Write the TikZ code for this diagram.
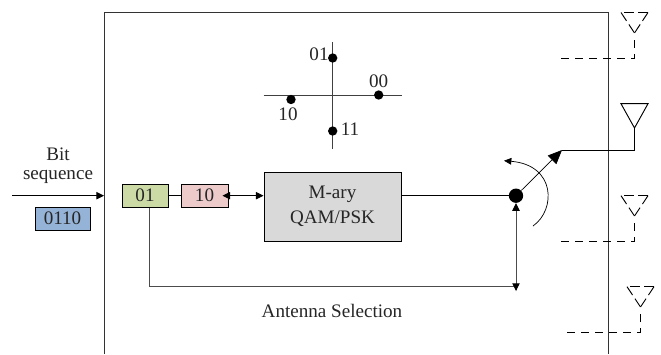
\documentclass[tikz,border=0pt]{standalone}
\usepackage{fontspec}
\setmainfont{Liberation Serif}
\usetikzlibrary{arrows.meta}
\definecolor{boxblue}{HTML}{95B3D7}
\definecolor{boxgreen}{HTML}{CCDBA6}
\definecolor{boxpink}{HTML}{EDCBCB}
\definecolor{boxgray}{HTML}{D9D9D9}
\tikzset{
  txt/.style={inner sep=0pt, font=\fontsize{16.3}{18}\selectfont, text=black!85},
  bitbox/.style={draw, line width=0.8pt, minimum height=0.69cm, inner sep=0pt, font=\fontsize{16.3}{18}\selectfont, text=black!85},
  point/.style={circle, fill=black, inner sep=0pt, minimum size=0.28cm},
  thin line/.style={line width=0.8pt},
  dash line/.style={line width=0.8pt, dash pattern=on 0.24cm off 0.18cm},
  dash tri/.style={line width=0.8pt, dash pattern=on 0.3cm off 0.13cm},
}
\begin{document}
\begin{tikzpicture}[x=0.03cm, y=-0.03cm, >={Triangle[length=0.23cm,width=0.22cm,black]}]
\useasboundingbox (0,0) rectangle (661,354);
\coordinate (frameA) at (104,354);
\coordinate (frameB) at (104,12.5);
\coordinate (frameC) at (608,12.5);
\coordinate (frameD) at (608,354);
\draw[line width=0.8pt, black!80] (frameA) -- (frameB) -- (frameC) -- (frameD);

\node[txt] (bit) at (58,154) {Bit};
\node[txt] (seq) at (58,177) {sequence};
\node[bitbox, fill=boxblue, minimum width=1.65cm] (input) at (62.5,218.5) {0110};
\node[bitbox, fill=boxgreen, minimum width=1.38cm] (first) at (145,195.7) {01};
\node[bitbox, fill=boxpink, minimum width=1.41cm] (second) at (204.5,195.7) {10};
\node[draw, fill=boxgray, line width=0.8pt, minimum width=4.11cm, minimum height=2.07cm, align=center, txt, inner sep=0pt] (qam) at (332.5,206.5) {M-ary\\[3.5pt]QAM/PSK};
\node[circle, fill=black, inner sep=0pt, minimum size=0.43cm] (dot) at (516,195.7) {};
\node[txt] (sel) at (332,311) {Antenna Selection};

\coordinate (start) at (12,195.7);
\draw[thin line, ->] (start) -- (frameB |- start);
\draw[thin line] (first) -- (second);
\draw[thin line, <->, shorten <=-0.18cm] (second.east) -- (qam.west |- second);
\draw[thin line] (qam.east |- dot) -- (dot);

\coordinate (corner) at (149.5,286.7);
\coordinate (target) at (516,286.7);
\draw[thin line, black!70] (first.south -| corner) -- (corner) -- (target);
\draw[<->, thin line, black!70, shorten >=-0.13cm] (dot) -- (target);

\coordinate (armend) at (562,150);
\draw[line width=0.6pt, -{Triangle[length=0.42cm,width=0.36cm]}] (dot) -- (armend);
\coordinate (swingA) at (533,226);
\coordinate (swingB) at (504,160.7);
\draw[line width=0.6pt, -{Triangle[length=0.22cm,width=0.2cm]}] (swingA) .. controls (556,210) and (556,165) .. (swingB);

\coordinate (h0) at (263.5,95.7);
\coordinate (h1) at (402,95.7);
\coordinate (v0) at (332.7,42);
\coordinate (v1) at (332.7,149);
\draw[thin line, black!75] (h0) -- (h1);
\draw[thin line, black!75] (v0) -- (v1);
\node[point] (p01) at (332.7,58) {};
\node[point] (p00) at (378.7,95) {};
\node[point] (p10) at (291,99.5) {};
\node[point] (p11) at (332.7,131) {};
\node[txt] (l01) at (319,54) {01};
\node[txt] (l00) at (378.7,81) {00};
\node[txt] (l10) at (288,114) {10};
\node[txt] (l11) at (350,129) {11};

\draw[dash line] (561,58) -- (634.5,58) -- (634.5,35);
\draw[dash tri] (621,12.5) -- (634.5,33);
\draw[dash tri] (648,12.5) -- (634.5,33);
\draw[dash tri] (648,12.5) -- (621,12.5);
\draw[line width=0.8pt] (armend) -- (634.5,150) -- (634.5,128);
\draw[line width=0.8pt] (634.5,128) -- (621,103.7) -- (648,103.7) -- cycle;
\draw[dash line] (561,241) -- (634.5,241) -- (634.5,218);
\draw[dash tri] (621,195.7) -- (634.5,216);
\draw[dash tri] (648,195.7) -- (634.5,216);
\draw[dash tri] (648,195.7) -- (621,195.7);
\draw[dash line] (567,332.7) -- (640.5,332.7) -- (640.5,309);
\draw[dash tri] (627,286.7) -- (640.5,307);
\draw[dash tri] (654,286.7) -- (640.5,307);
\draw[dash tri] (654,286.7) -- (627,286.7);
\end{tikzpicture}
\end{document}
